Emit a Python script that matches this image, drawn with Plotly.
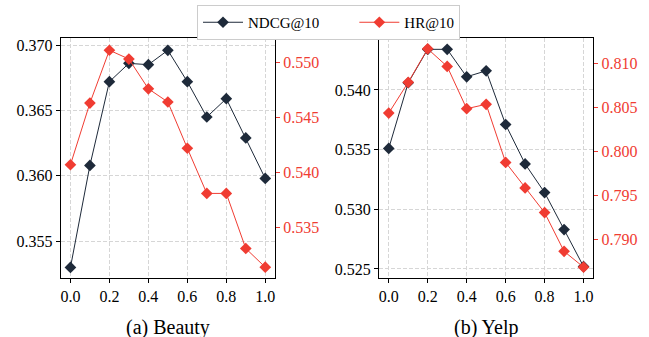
import plotly.graph_objects as go

x_vals = [0.0, 0.1, 0.2, 0.3, 0.4, 0.5, 0.6, 0.7, 0.8, 0.9, 1.0]
x_ticks = [0.0, 0.2, 0.4, 0.6, 0.8, 1.0]

beauty_ndcg = [0.3530, 0.3608, 0.3672, 0.3686, 0.3685, 0.3696, 0.3672, 0.3645, 0.3659, 0.3629, 0.3598]
beauty_hr = [0.5407, 0.5463, 0.5511, 0.5503, 0.5476, 0.5464, 0.5422, 0.5381, 0.5381, 0.5331, 0.5314]
yelp_ndcg = [0.5351, 0.5406, 0.5434, 0.5434, 0.5411, 0.5416, 0.5371, 0.5338, 0.5314, 0.5283, 0.5252]
yelp_hr = [0.8044, 0.8079, 0.8117, 0.8097, 0.8049, 0.8054, 0.7988, 0.7959, 0.7931, 0.7887, 0.7869]

beauty_ndcg_ticks = [0.355, 0.360, 0.365, 0.370]
beauty_hr_ticks = [0.535, 0.540, 0.545, 0.550]
yelp_ndcg_ticks = [0.525, 0.530, 0.535, 0.540]
yelp_hr_ticks = [0.790, 0.795, 0.800, 0.805, 0.810]

titles = ["(a) Beauty", "(b) Yelp"]
series_names = ["NDCG@10", "HR@10"]

NAVY = "#1e2a3a"
RED = "#f03c32"
FONT = "Liberation Serif"
PAD = "\u00a0" * 8

fig = go.Figure()

def add_series(xa, ya, y, color, name, show, label=None):
    fig.add_trace(go.Scatter(
        x=x_vals, y=y, xaxis=xa, yaxis=ya, name=label or name, showlegend=show,
        mode="lines+markers",
        line=dict(color=color, width=1),
        marker=dict(symbol="diamond", size=9, color=color),
    ))

add_series("x", "y", beauty_ndcg, NAVY, series_names[0], True, series_names[0] + PAD)
add_series("x", "y2", beauty_hr, RED, series_names[1], True)
add_series("x2", "y3", yelp_ndcg, NAVY, series_names[0], False)
add_series("x2", "y4", yelp_hr, RED, series_names[1], False)

W, H = 649, 337
ydom = [1 - 278 / H, 1 - 38 / H]
xdom1 = [60.7 / W, 275 / W]
xdom2 = [379 / W, 593.3 / W]

tickfont = dict(family=FONT, size=16, color="black")
redfont = dict(family=FONT, size=16, color=RED)
GRID = dict(showgrid=True, gridcolor="#d6d6d6", griddash="4px,2px", gridwidth=1)

def xaxis(dom, anchor):
    return dict(domain=dom, anchor=anchor, range=[-0.05, 1.05], tickvals=x_ticks,
                ticktext=[f"{v:.1f}" for v in x_ticks], tickfont=tickfont,
                showline=True, linecolor="black", linewidth=1.2, mirror=True,
                ticks="outside", ticklen=4, tickcolor="black",
                zeroline=False, automargin=False, **GRID)

def yleft(anchor, rng, tv):
    return dict(domain=ydom, anchor=anchor, range=rng, tickvals=tv,
                ticktext=[f"{v:.3f}" for v in tv], tickfont=tickfont,
                showline=True, linecolor="black", linewidth=1.2, mirror=True,
                ticks="outside", ticklen=4, tickcolor="black",
                zeroline=False, automargin=False, **GRID)

def yright(anchor, over, rng, tv):
    return dict(anchor=anchor, overlaying=over, side="right", range=rng, tickvals=tv,
                ticktext=[f"{v:.3f}" for v in tv], tickfont=redfont,
                showline=False, ticks="outside", ticklen=4, tickcolor=RED,
                showgrid=False, zeroline=False, automargin=False)

fig.update_layout(
    width=W, height=H,
    margin=dict(l=0, r=0, t=0, b=0),
    paper_bgcolor="white", plot_bgcolor="white",
    font=dict(family=FONT, size=16, color="black"),
    xaxis=xaxis(xdom1, "y"),
    xaxis2=xaxis(xdom2, "y3"),
    yaxis=yleft("x", [0.35219, 0.37054], beauty_ndcg_ticks),
    yaxis2=yright("x", "y", [0.53042, 0.55221], beauty_hr_ticks),
    yaxis3=yleft("x2", [0.52424, 0.54435], yelp_ndcg_ticks),
    yaxis4=yright("x2", "y3", [0.78567, 0.81293], yelp_hr_ticks),
    legend=dict(orientation="h", x=197 / W, xanchor="left", y=1 - 5 / H, yanchor="top",
                bordercolor="#cccccc", borderwidth=1, bgcolor="white",
                font=dict(family=FONT, size=15, color="black"),
                itemwidth=40, tracegroupgap=0),
)

for t, dom in zip(titles, [xdom1, xdom2]):
    fig.add_annotation(text=t, x=(dom[0] + dom[1]) / 2, y=1 - 327 / H, xref="paper", yref="paper",
                       xanchor="center", yanchor="middle", showarrow=False,
                       font=dict(family=FONT, size=20, color="black"))

fig.write_html("out.html", config={"displayModeBar": False},
               post_script="document.body.style.margin='0';document.body.style.overflow='hidden';")
